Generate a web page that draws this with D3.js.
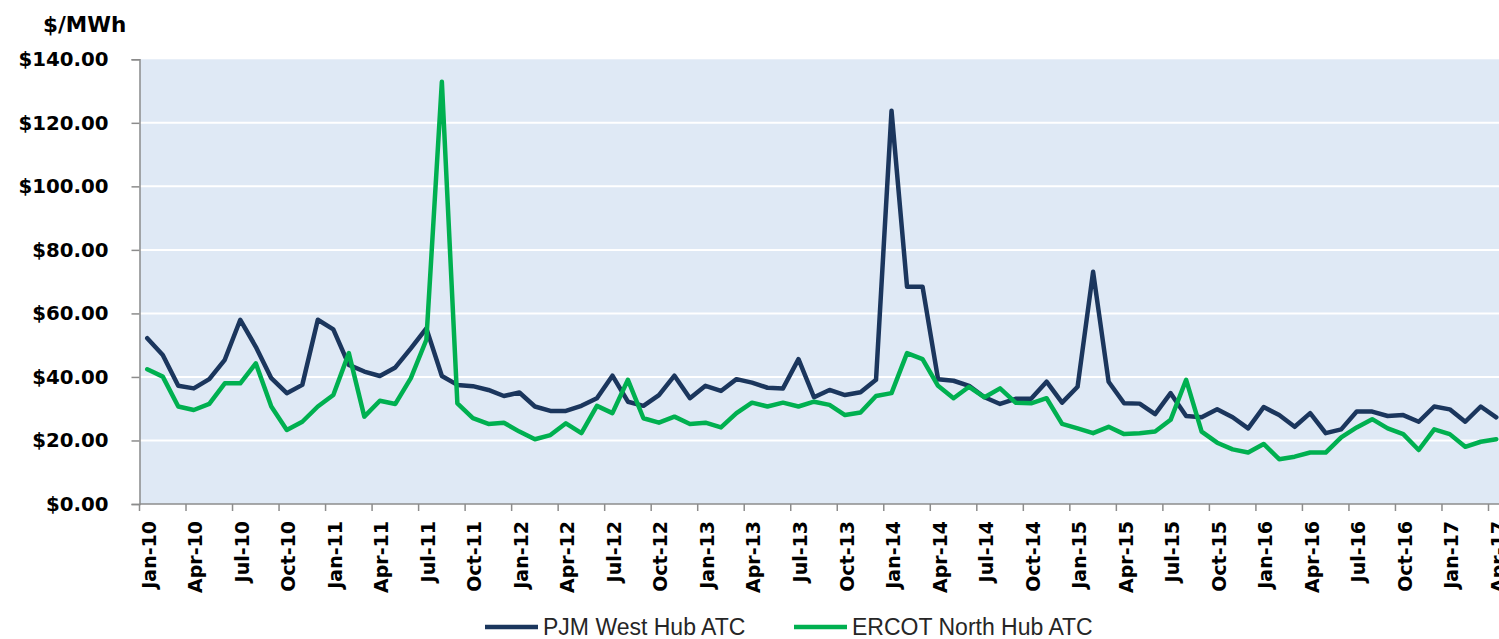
<!DOCTYPE html>
<html>
<head>
<meta charset="utf-8">
<script src="https://cdn.jsdelivr.net/npm/d3@7"></script>
<style>
  html, body { margin: 0; padding: 0; background: #ffffff; overflow: hidden; }
  svg { display: block; }
  .tick-label { font-family: "DejaVu Sans", sans-serif; font-weight: bold; fill: #000; }
  .legend-text { font-family: "Liberation Sans", Arial, sans-serif; fill: #262626; }
</style>
</head>
<body>
<script>
// Monthly average around-the-clock (ATC) prices, $/MWh, Jan 2010 – Apr 2017
const startMonth = new Date(Date.UTC(2010, 0, 1));
const endMonth = new Date(Date.UTC(2017, 4, 1));
const months = d3.utcMonth.range(startMonth, endMonth);
const fmtMonth = d3.utcFormat("%b-%y");
const categories = months.map(fmtMonth);

const pjmWest = [
  52.2, 46.9, 37.2, 36.4, 39.3, 45.4, 58.0, 49.5, 39.6, 34.9, 37.5, 58.0,
  55.0, 43.8, 41.7, 40.3, 43.0, 49.0, 55.3, 40.3, 37.5, 37.1, 35.9, 34.0,
  35.1, 30.7, 29.3, 29.3, 30.9, 33.3, 40.4, 32.2, 30.9, 34.3, 40.4, 33.3,
  37.2, 35.6, 39.3, 38.2, 36.6, 36.4, 45.6, 33.6, 35.9, 34.3, 35.2, 39.1,
  123.8, 68.4, 68.4, 39.3, 38.8, 37.2, 33.6, 31.5, 33.1, 33.1, 38.5, 31.9,
  36.9, 73.1, 38.5, 31.7, 31.6, 28.3, 34.9, 27.7, 27.3, 29.8, 27.3, 23.8,
  30.5, 28.0, 24.3, 28.6, 22.3, 23.5, 29.1, 29.1, 27.7, 28.0, 25.9, 30.7,
  29.8, 25.9, 30.7, 27.3
];

const ercotNorth = [
  42.4, 40.1, 30.7, 29.6, 31.5, 38.0, 38.0, 44.3, 30.7, 23.3, 25.9, 30.7,
  34.3, 47.5, 27.5, 32.5, 31.5, 39.6, 51.7, 132.9, 31.7, 27.0, 25.2, 25.6,
  22.8, 20.4, 21.7, 25.4, 22.3, 30.9, 28.6, 39.1, 27.0, 25.6, 27.5, 25.2,
  25.6, 24.1, 28.6, 31.9, 30.7, 31.9, 30.7, 32.2, 31.2, 28.0, 28.8, 34.0,
  34.9, 47.5, 45.6, 37.2, 33.3, 36.9, 33.6, 36.4, 31.9, 31.7, 33.3, 25.2,
  23.8, 22.3, 24.3, 22.0, 22.3, 22.8, 26.5, 39.1, 22.8, 19.3, 17.2, 16.2,
  18.9, 14.1, 14.9, 16.2, 16.2, 21.0, 24.1, 26.7, 23.8, 22.0, 17.0, 23.5,
  22.0, 18.0, 19.6, 20.4
];

const yTicks = [0, 20, 40, 60, 80, 100, 120, 140];
const seriesNames = ["PJM West Hub ATC", "ERCOT North Hub ATC"];
const seriesColors = ["#1B365D", "#00B050"];

const width = 1499, height = 639;
const plot = { left: 139.5, top: 59.3, right: 1504, bottom: 504 };

const svg = d3.select("body").append("svg")
  .attr("width", width)
  .attr("height", height);

const x = d3.scaleBand()
  .domain(categories)
  .range([plot.left, plot.right])
  .paddingInner(0)
  .paddingOuter(0);

const y = d3.scaleLinear()
  .domain([0, 140])
  .range([plot.bottom, plot.top]);

const xc = c => x(c) + x.bandwidth() / 2;

// Plot background
svg.append("rect")
  .attr("x", plot.left)
  .attr("y", plot.top)
  .attr("width", plot.right - plot.left)
  .attr("height", plot.bottom - plot.top)
  .attr("fill", "#DFE9F5");

// Horizontal gridlines
svg.append("g")
  .selectAll("line")
  .data(yTicks.filter(v => v > 0 && v < 140))
  .join("line")
  .attr("x1", plot.left)
  .attr("x2", plot.right)
  .attr("y1", d => y(d))
  .attr("y2", d => y(d))
  .attr("stroke", "#ffffff")
  .attr("stroke-width", 2);

// Y axis
const yAxis = svg.append("g")
  .attr("transform", `translate(${plot.left},0)`)
  .call(d3.axisLeft(y)
    .tickValues(yTicks)
    .tickSize(8)
    .tickPadding(23)
    .tickFormat(d => "$" + d3.format(".2f")(d)));
yAxis.select(".domain").attr("stroke", "#8C8C8C").attr("stroke-width", 1.5);
yAxis.selectAll(".tick line").attr("stroke", "#8C8C8C").attr("stroke-width", 1.5);
yAxis.selectAll(".tick text")
  .attr("class", "tick-label")
  .style("font-size", "19.8px");

// X axis: tick marks at category boundaries every quarter
const quarterCats = categories.filter((c, i) => i % 3 === 0);
const xAxisG = svg.append("g");
xAxisG.append("line")
  .attr("x1", plot.left)
  .attr("x2", plot.right)
  .attr("y1", plot.bottom)
  .attr("y2", plot.bottom)
  .attr("stroke", "#8C8C8C")
  .attr("stroke-width", 1.5);
xAxisG.selectAll("line.qtick")
  .data(quarterCats)
  .join("line")
  .attr("class", "qtick")
  .attr("x1", d => x(d))
  .attr("x2", d => x(d))
  .attr("y1", plot.bottom)
  .attr("y2", plot.bottom + 7)
  .attr("stroke", "#8C8C8C")
  .attr("stroke-width", 1.5);

// Quarter labels, rotated, centred on their month
xAxisG.selectAll("text")
  .data(quarterCats)
  .join("text")
  .attr("class", "tick-label")
  .style("font-size", "19px")
  .attr("text-anchor", "end")
  .attr("dominant-baseline", "central")
  .attr("transform", d => `translate(${xc(d) + 1.5},${plot.bottom + 17}) rotate(-90)`)
  .text(d => d);

// Unit label
svg.append("text")
  .attr("class", "tick-label")
  .style("font-size", "21.5px")
  .attr("x", 43)
  .attr("y", 32)
  .text("$/MWh");

// Series lines
const line = d3.line()
  .x((d, i) => xc(categories[i]))
  .y(d => y(d));

[pjmWest, ercotNorth].forEach((vals, k) => {
  svg.append("path")
    .datum(vals)
    .attr("fill", "none")
    .attr("stroke", seriesColors[k])
    .attr("stroke-width", 4.5)
    .attr("stroke-linejoin", "round")
    .attr("stroke-linecap", "round")
    .attr("d", line);
});

// Legend
const legendItems = [
  { name: seriesNames[0], color: seriesColors[0], x: 485 },
  { name: seriesNames[1], color: seriesColors[1], x: 794 }
];
const lg = svg.append("g").attr("transform", "translate(0,627)");
legendItems.forEach(item => {
  lg.append("line")
    .attr("x1", item.x)
    .attr("x2", item.x + 53)
    .attr("y1", 0)
    .attr("y2", 0)
    .attr("stroke", item.color)
    .attr("stroke-width", 4.5);
  lg.append("text")
    .attr("class", "legend-text")
    .style("font-size", "23px")
    .attr("x", item.x + 58)
    .attr("y", 0)
    .attr("dominant-baseline", "central")
    .text(item.name);
});
</script>
</body>
</html>
